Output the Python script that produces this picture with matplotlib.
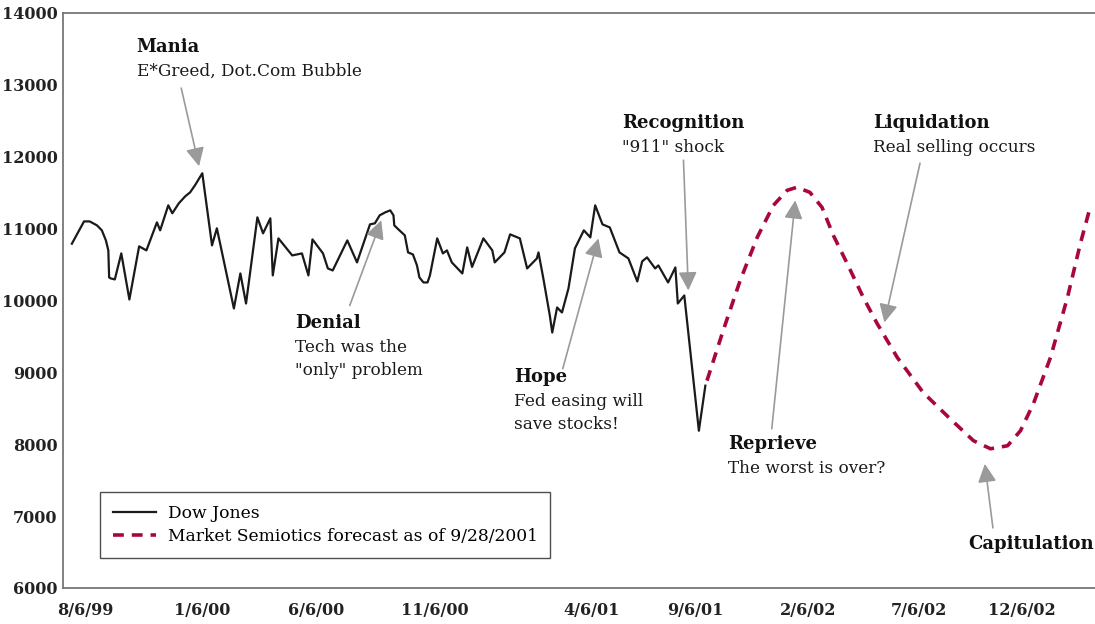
import matplotlib
matplotlib.use('Agg')
import matplotlib.pyplot as plt

plt.rcParams['font.family'] = ['DejaVu Serif']

# Dow Jones weekly closes, x = days since 8/6/99
dow_days = [1, 16, 23, 32, 38, 43, 46, 47, 49, 54, 62, 72, 84, 93, 106, 110, 120, 125,
            133, 141, 147, 153, 162, 174, 180, 201, 209, 216, 230, 237, 246, 249, 256,
            273, 285, 293, 298, 311, 317, 323, 341, 353, 369, 375, 381, 388, 394, 398,
            399, 404, 412, 416, 422, 427, 430, 435, 440, 443, 452, 459, 464, 470, 483,
            489, 495, 509, 520, 523, 535, 542, 554, 563, 575, 577, 583, 591, 594, 600,
            606, 614, 622, 633, 641, 647, 656, 665, 677, 688, 699, 705, 711, 721, 725,
            737, 746, 749, 757, 775, 783]
dow_vals = [10790, 11100, 11100, 11045, 10976, 10836, 10697, 10321, 10307, 10293, 10655,
            10014, 10753, 10697, 11087, 10976, 11324, 11213, 11352, 11450, 11505, 11603,
            11770, 10767, 11004, 9889, 10376, 9958, 11157, 10934, 11143, 10349, 10864,
            10627, 10655, 10349, 10850, 10655, 10446, 10418, 10836, 10530, 11059, 11073,
            11185, 11227, 11254, 11185, 11045, 10990, 10906, 10669, 10641, 10488, 10321,
            10251, 10251, 10349, 10864, 10655, 10697, 10530, 10376, 10739, 10467, 10864,
            10697, 10530, 10669, 10920, 10864, 10446, 10585, 10669, 10307, 9791, 9554,
            9903, 9833, 10167, 10725, 10976, 10878, 11324, 11059, 11017, 10669, 10585,
            10265, 10544, 10600, 10446, 10488, 10251, 10460, 9958, 10070, 8188, 8815]

# forecast curve
fc_days = [785, 805, 826, 847, 867, 884, 896, 912, 927, 941, 958, 978, 995, 1020, 1052,
           1085, 1114, 1135, 1156, 1172, 1188, 1209, 1230, 1246, 1258]
fc_vals = [8885, 9582, 10279, 10878, 11324, 11533, 11575, 11505, 11296, 10906, 10516,
           10042, 9680, 9206, 8718, 8356, 8049, 7937, 7979, 8188, 8565, 9206, 10042,
           10795, 11296]

tick_days = [18, 162, 302, 449, 642, 770, 910, 1047, 1174]
tick_labels = ['8/6/99', '1/6/00', '6/6/00', '11/6/00', '4/6/01', '9/6/01',
               '2/6/02', '7/6/02', '12/6/02']

# (title, body, text x/y, arrow tail, arrow tip)
notes = [
    ('Mania', 'E*Greed, Dot.Com Bubble', (81, 13526), (136, 12955), (158, 11868)),
    ('Denial', 'Tech was the\n"only" problem', (277, 9693), (344, 9930), (383, 11115)),
    ('Hope', 'Fed easing will\nsave stocks!', (547, 8941), (607, 9052), (651, 10864)),
    ('Recognition', '"911" shock', (680, 12467), (756, 11951), (762, 10140)),
    ('Liquidation', 'Real selling occurs', (990, 12467), (1048, 11910), (1004, 9693)),
    ('Reprieve', 'The worst is over?', (811, 8007), (865, 8216), (894, 11394)),
    ('Capitulation', '', (1107, 6613), (1138, 6836), (1128, 7728)),
]

fig = plt.figure(figsize=(10.95, 6.24), dpi=100)
ax = fig.add_axes([0.0575, 0.0577, 0.9425, 0.9215])

ax.plot(dow_days, dow_vals, color='#1a1a1a', lw=1.6, label='Dow Jones')
ax.plot(fc_days, fc_vals, color='#a8063f', lw=2.6, dashes=(3, 2.2),
        label='Market Semiotics forecast as of 9/28/2001')

ax.set_xlim(-10, 1264)
ax.set_ylim(6000, 14000)
ax.set_yticks(range(6000, 14001, 1000))
ax.set_xticks(tick_days)
ax.set_xticklabels(tick_labels)
ax.tick_params(length=0, labelsize=11.5)
ax.tick_params(axis='y', pad=4)
ax.tick_params(axis='x', pad=10)
for lab in ax.get_xticklabels() + ax.get_yticklabels():
    lab.set_fontweight('bold')
    lab.set_color('#222222')

for s in ['left', 'bottom', 'top']:
    ax.spines[s].set_color('#777777')
    ax.spines[s].set_linewidth(1.3)
ax.spines['right'].set_visible(False)

for title, body, (tx, ty), tail, tip in notes:
    ax.annotate('', xy=tip, xytext=tail,
                arrowprops=dict(arrowstyle='-|>', color='#9a9a9a', lw=1.2,
                                mutation_scale=28, shrinkA=0, shrinkB=0))
    ax.text(tx, ty, title, fontsize=13, fontweight='bold', va='center', color='#111111')
    if body:
        ax.text(tx, ty - 225, body, fontsize=12.2, va='top', color='#1a1a1a',
                linespacing=1.45)

leg = ax.legend(loc='lower left', bbox_to_anchor=(0.036, 0.052), borderaxespad=0,
                fontsize=12.3, frameon=True, fancybox=False, handlelength=2.5,
                borderpad=0.75, labelspacing=0.35, handletextpad=0.7)
leg.get_frame().set_edgecolor('#222222')
leg.get_frame().set_linewidth(1.0)

fig.savefig('out.png', dpi=100)
